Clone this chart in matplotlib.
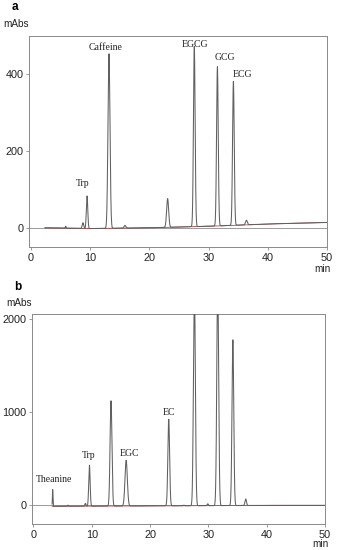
import numpy as np
import matplotlib
matplotlib.use("Agg")
import matplotlib.pyplot as plt

# ---- data ----
# Panel a: peaks (retention time min, height mAbs, width sigma min)
a_rt     = [5.9, 8.8, 9.5, 13.2, 15.9, 23.1, 27.6, 31.5, 34.2, 36.4]
a_height = [5, 15, 85, 455, 7, 75, 470, 415, 375, 12]
a_sigma  = [0.06, 0.12, 0.12, 0.17, 0.15, 0.17, 0.14, 0.14, 0.14, 0.15]
a_base_t = [2.4, 10, 20, 30, 40, 50]
a_base_y = [0, -2, 0, 4, 10, 14]
a_labels = ["Trp", "Caffeine", "EGCG", "GCG", "ECG"]
a_lab_x  = [8.8, 12.7, 27.7, 32.8, 35.8]
a_lab_y  = [116, 469, 478, 443, 399]

# Panel b
b_rt     = [3.3, 5.9, 8.9, 9.6, 13.3, 15.9, 23.2, 25.8, 27.6, 29.9, 31.6, 34.2, 36.4]
b_height = [180, 12, 30, 440, 1130, 490, 930, 6, 2400, 20, 2400, 1780, 70]
b_sigma  = [0.05, 0.08, 0.1, 0.12, 0.16, 0.2, 0.15, 0.1, 0.16, 0.1, 0.16, 0.15, 0.13]
b_base_t = [3.2, 10, 20, 30, 40, 50]
b_base_y = [-10, -8, -5, -3, 0, 0]
b_labels = ["Theanine", "Trp", "EGC", "EC"]
b_lab_x  = [3.6, 9.5, 16.4, 23.2]
b_lab_y  = [275, 540, 562, 999]

a_yticks = [0, 200, 400]
b_yticks = [0, 1000, 2000]
x_ticks = [0, 10, 20, 30, 40, 50]

trace_c = "#606060"
base_c = "#b04a4a"
frame_c = "#8a8a8a"
tick_font = ["Liberation Sans", "DejaVu Sans"]
lab_font = ["Liberation Serif", "DejaVu Serif"]

fig = plt.figure(figsize=(3.37, 5.5), dpi=100)
W, H = 337, 550

def make_ax(left, top, right, bottom):
    return fig.add_axes([left / W, 1 - bottom / H, (right - left) / W, (bottom - top) / H])

def signal(t, rts, hs, sg, bt, by):
    base = np.interp(t, bt, by)
    y = base.copy()
    for r, h, s in zip(rts, hs, sg):
        y += h * np.exp(-0.5 * ((t - r) / s) ** 2)
    return base, y

def style(ax, yticks, ylim):
    ax.set_xlim(-0.3, 50)
    ax.set_ylim(*ylim)
    ax.set_xticks(x_ticks)
    ax.set_yticks(yticks)
    for s in ax.spines.values():
        s.set_color(frame_c)
        s.set_linewidth(0.7)
    ax.tick_params(axis="both", length=2, width=0.6, color=frame_c, labelsize=7.8, pad=2)
    for lab in ax.get_xticklabels() + ax.get_yticklabels():
        lab.set_family(tick_font)
        lab.set_color("#222222")
    ax.axhline(0, color=frame_c, lw=0.6, zorder=1)

# Panel a
ax1 = make_ax(29, 36, 327, 247)
t1 = np.linspace(a_base_t[0], 50, 5000)
base1, y1 = signal(t1, a_rt, a_height, a_sigma, a_base_t, a_base_y)
ax1.plot(t1, base1, color=base_c, lw=0.6, zorder=2)
ax1.plot(t1, y1, color=trace_c, lw=0.75, zorder=3)
style(ax1, a_yticks, (-50, 500))
for s, x, y in zip(a_labels, a_lab_x, a_lab_y):
    ax1.text(x, y, s, ha="center", va="center", fontsize=7, family=lab_font, color="#222222")

# Panel b
ax2 = make_ax(31.7, 314, 325, 524)
t2 = np.linspace(b_base_t[0], 50, 5000)
base2, y2 = signal(t2, b_rt, b_height, b_sigma, b_base_t, b_base_y)
ax2.plot(t2, base2, color=base_c, lw=0.6, zorder=2)
ax2.plot(t2, y2, color=trace_c, lw=0.75, zorder=3)
style(ax2, b_yticks, (-200, 2055))
for s, x, y in zip(b_labels, b_lab_x, b_lab_y):
    ax2.text(x, y, s, ha="center", va="center", fontsize=7, family=lab_font, color="#222222")

# Panel letters and units
fig.text(12 / W, 1 - 7 / H, "a", fontsize=8.5, fontweight="bold", family=tick_font, ha="left", va="center")
fig.text(3 / W, 1 - 24 / H, "mAbs", fontsize=7.2, family=tick_font, ha="left", va="center", color="#222222")
fig.text(322 / W, 1 - 269 / H, "min", fontsize=7.2, family=tick_font, ha="center", va="center", color="#222222")
fig.text(14 / W, 1 - 287 / H, "b", fontsize=8.5, fontweight="bold", family=tick_font, ha="left", va="center")
fig.text(6 / W, 1 - 303 / H, "mAbs", fontsize=7.2, family=tick_font, ha="left", va="center", color="#222222")
fig.text(320 / W, 1 - 544 / H, "min", fontsize=7.2, family=tick_font, ha="center", va="center", color="#222222")

fig.savefig("out.png", dpi=100)
